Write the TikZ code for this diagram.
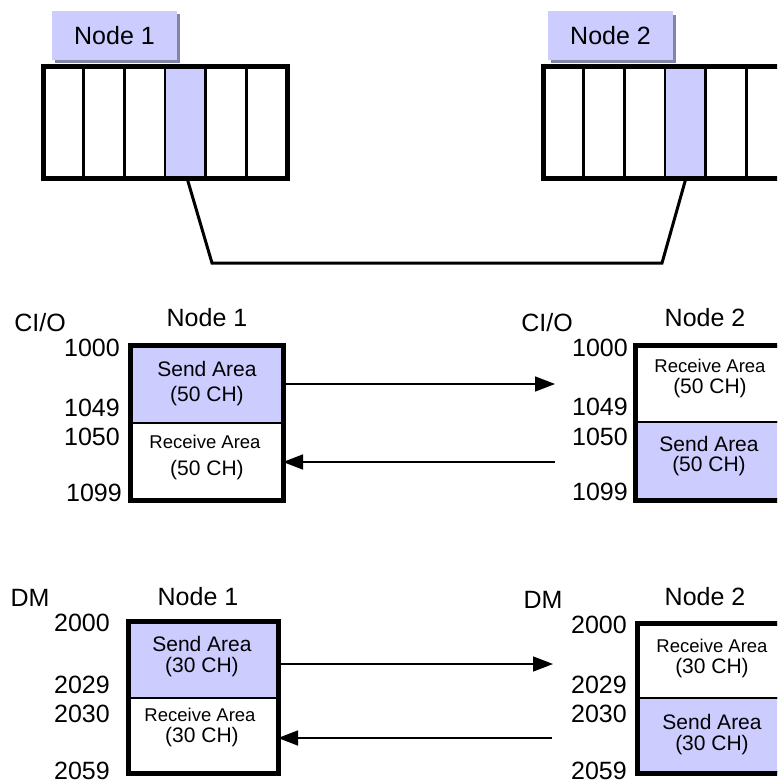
\documentclass[tikz,border=0pt]{standalone}
\usepackage{fontspec}
\setmainfont{Liberation Sans}
\usetikzlibrary{arrows.meta}
\definecolor{areablue}{HTML}{CCCCFF}
\definecolor{shadowblue}{HTML}{8484A4}
\tikzset{
	bigtxt/.style={font=\fontsize{25}{30}\selectfont, inner sep=0pt},
	midtxt/.style={font=\fontsize{21}{25}\selectfont, inner sep=0pt},
	smalltxt/.style={font=\fontsize{18.5}{22}\selectfont, inner sep=0pt},
	numtxt/.style={bigtxt, anchor=east},
	tag/.style={fill=areablue, minimum width=125pt, minimum height=49pt, inner sep=0pt,
			font=\fontsize{25}{30}\selectfont},
	slotbox/.style={fill=areablue, minimum width=40.67pt, minimum height=111pt, inner sep=0pt},
	area/.style={draw, line width=2pt, inner sep=0pt, anchor=north west},
	link/.style={line width=1.5pt, -{Triangle[length=20pt,width=15pt]}}
}
\begin{document}
\begin{tikzpicture}[x=1pt, y=-1pt]
		\clip (0, 0) rectangle (777, 781);

		% racks
		\fill[shadowblue] (55, 14) rectangle (180, 63);
		\node[tag] (tag1) at (114.5, 35.5) {Node 1};
		\fill[shadowblue] (551, 15) rectangle (676, 63);
		\node[tag] (tag2) at (610.5, 36) {Node 2};

		\node[slotbox] (slot1) at (185.3, 122.5) {};
		\node[slotbox] (slot2) at (685.3, 122.5) {};

		\draw[line width=5pt] (43, 67) rectangle (287, 178);
		\draw[line width=5pt] (543, 67) rectangle (787, 178);
		\foreach \i in {1, 2, 3, 4, 5}{
				\draw[line width=2.7pt] (43+40.67*\i, 67) -- (43+40.67*\i, 178);
				\draw[line width=2.7pt] (543+40.67*\i, 67) -- (543+40.67*\i, 178);
			}

		\coordinate (bend1) at (212, 263);
		\coordinate (bend2) at (662, 263);
		\draw[line width=3pt] (187, 178) -- (bend1) -- (bend2) -- (686, 178);

		% CI/O
		\node[bigtxt] (cio1) at (40, 323) {CI/O};
		\node[bigtxt] (cioname1) at (207, 318) {Node 1};
		\node[area, fill=areablue, minimum width=151pt, minimum height=77pt] (ciosend1) at (130, 345) {};
		\node[area, minimum width=151pt, minimum height=76pt] (ciorecv1) at (130, 422) {};
		\draw[line width=5pt] (ciosend1.north west) rectangle (ciorecv1.south east);
		\node[midtxt] (t1) at (207, 369) {Send Area};
		\node[midtxt] (t2) at (207, 396) {(50 CH)};
		\node[smalltxt] (t3) at (205, 442) {Receive Area};
		\node[midtxt] (t4) at (207, 470) {(50 CH)};
		\node[numtxt] (a1) at (120, 348) {1000};
		\node[numtxt] (a2) at (120, 408) {1049};
		\node[numtxt] (a3) at (120, 437) {1050};
		\node[numtxt] (a4) at (122, 493) {1099};

		\node[bigtxt] (cio2) at (547, 323) {CI/O};
		\node[bigtxt] (cioname2) at (705, 318) {Node 2};
		\node[area, minimum width=151pt, minimum height=76pt] (ciorecv2) at (635, 345) {};
		\node[area, fill=areablue, minimum width=151pt, minimum height=77pt] (ciosend2) at (635, 421) {};
		\draw[line width=5pt] (ciorecv2.north west) rectangle (ciosend2.south east);
		\node[smalltxt] (t5) at (710, 366) {Receive Area};
		\node[midtxt] (t6) at (710, 388) {(50 CH)};
		\node[midtxt] (t7) at (709, 444) {Send Area};
		\node[midtxt] (t8) at (709, 466) {(50 CH)};
		\node[numtxt] (b1) at (628, 348) {1000};
		\node[numtxt] (b2) at (628, 407) {1049};
		\node[numtxt] (b3) at (628, 437) {1050};
		\node[numtxt] (b4) at (628, 492) {1099};

		\coordinate (cioend1) at (555, 384);
		\coordinate (cioend2) at (555, 462);
		\draw[link] (ciosend1.east |- cioend1) -- (cioend1);
		\draw[link] (cioend2) -- (ciorecv1.east |- cioend2);

		% DM
		\node[bigtxt] (dm1) at (30, 598) {DM};
		\node[bigtxt] (dmname1) at (198, 597) {Node 1};
		\node[area, fill=areablue, minimum width=148pt, minimum height=76pt] (dmsend1) at (128, 621) {};
		\node[area, minimum width=148pt, minimum height=74pt] (dmrecv1) at (128, 697) {};
		\draw[line width=5pt] (dmsend1.north west) rectangle (dmrecv1.south east);
		\node[midtxt] (t9) at (202, 644) {Send Area};
		\node[midtxt] (t10) at (202, 667) {(30 CH)};
		\node[smalltxt] (t11) at (200, 715) {Receive Area};
		\node[midtxt] (t12) at (202, 737) {(30 CH)};
		\node[numtxt] (c1) at (110, 623) {2000};
		\node[numtxt] (c2) at (110, 685) {2029};
		\node[numtxt] (c3) at (110, 714) {2030};
		\node[numtxt] (c4) at (110, 771) {2059};

		\node[bigtxt] (dm2) at (543, 600) {DM};
		\node[bigtxt] (dmname2) at (705, 597) {Node 2};
		\node[area, minimum width=148pt, minimum height=74pt] (dmrecv2) at (637, 623) {};
		\node[area, fill=areablue, minimum width=148pt, minimum height=74pt] (dmsend2) at (637, 697) {};
		\draw[line width=5pt] (dmrecv2.north west) rectangle (dmsend2.south east);
		\node[smalltxt] (t13) at (712, 646) {Receive Area};
		\node[midtxt] (t14) at (712, 668) {(30 CH)};
		\node[midtxt] (t15) at (712, 722) {Send Area};
		\node[midtxt] (t16) at (712, 745) {(30 CH)};
		\node[numtxt] (d1) at (627, 625) {2000};
		\node[numtxt] (d2) at (627, 685) {2029};
		\node[numtxt] (d3) at (627, 714) {2030};
		\node[numtxt] (d4) at (627, 771) {2059};

		\coordinate (dmend1) at (553, 664);
		\coordinate (dmend2) at (552, 738);
		\draw[link] (dmsend1.east |- dmend1) -- (dmend1);
		\draw[link] (dmend2) -- (dmrecv1.east |- dmend2);
	\end{tikzpicture}
\end{document}
